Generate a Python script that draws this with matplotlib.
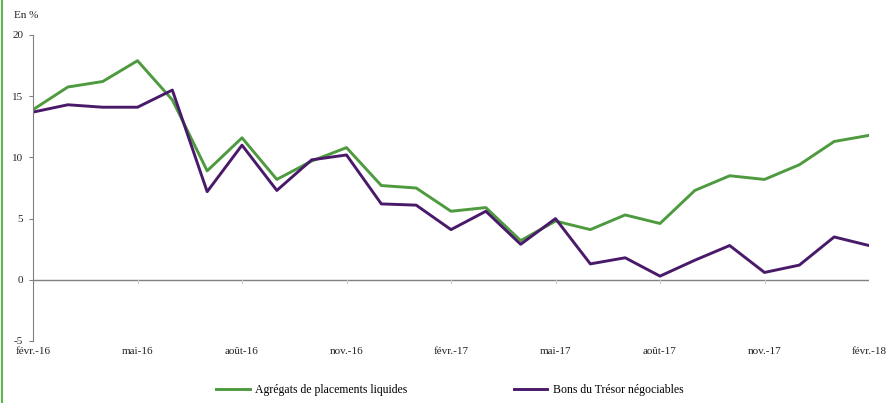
import matplotlib.pyplot as plt
import matplotlib.lines as mlines
import numpy as np

plt.rcParams['font.family'] = ['Liberation Serif', 'DejaVu Serif']
plt.rcParams['axes.unicode_minus'] = False

months = ['févr.-16', 'mars-16', 'avr.-16', 'mai-16', 'juin-16', 'juil.-16', 'août-16', 'sept.-16',
          'oct.-16', 'nov.-16', 'déc.-16', 'janv.-17', 'févr.-17', 'mars-17', 'avr.-17', 'mai-17',
          'juin-17', 'juil.-17', 'août-17', 'sept.-17', 'oct.-17', 'nov.-17', 'déc.-17', 'janv.-18',
          'févr.-18']
agregats = [13.9, 15.75, 16.2, 17.9, 14.7, 8.9, 11.6, 8.2, 9.7, 10.8, 7.7, 7.5, 5.6, 5.9, 3.2,
            4.8, 4.1, 5.3, 4.6, 7.3, 8.5, 8.2, 9.4, 11.3, 11.8]
bons = [13.7, 14.3, 14.1, 14.1, 15.5, 7.2, 11.0, 7.3, 9.8, 10.2, 6.2, 6.1, 4.1, 5.6, 2.9,
        5.0, 1.3, 1.8, 0.3, 1.6, 2.8, 0.6, 1.2, 3.5, 2.8]
yticks = [-5, 0, 5, 10, 15, 20]

green = '#4E9A3F'
purple = '#4A1A6A'
grey = '#808080'

fig = plt.figure(figsize=(8.88, 4.03), dpi=100)
ax = fig.add_axes([33 / 888, 1 - 341 / 403, (869 - 33) / 888, (341 - 35) / 403])

x = np.arange(len(months))
ax.plot(x, agregats, color=green, lw=2.1, label='Agrégats de placements liquides')
ax.plot(x, bons, color=purple, lw=2.1, label='Bons du Trésor négociables')

ax.set_xlim(0, len(months) - 1)
ax.set_ylim(-5, 20)
ax.set_yticks(yticks)
ax.tick_params(axis='y', length=3, width=0.8, color=grey, labelsize=8, pad=4, labelcolor='#222222')

# horizontal axis at zero
ax.axhline(0, color=grey, lw=1)
for xt in x[::3]:
    ax.plot([xt, xt], [0, -0.25], color='#cccccc', lw=0.8)
ax.set_xticks([])
for xt in x[::3]:
    ax.text(xt, -5.45, months[xt], ha='center', va='top', fontsize=8, color='#222222')

for s in ['top', 'right', 'bottom']:
    ax.spines[s].set_visible(False)
ax.spines['left'].set_color(grey)
ax.spines['left'].set_linewidth(0.8)

fig.text(14 / 888, 1 - 15 / 403, 'En %', fontsize=8, color='#222222', va='center')

# left border line
fig.add_artist(mlines.Line2D([2 / 888, 2 / 888], [0, 1], color='#5CB84A', lw=1.5))

ax.legend(loc='center', bbox_to_anchor=(450 / 888, 1 - 390 / 403), bbox_transform=fig.transFigure,
          ncol=2, frameon=False, fontsize=8.5, handlelength=2.8, columnspacing=9, handletextpad=0.5)

plt.savefig('out.png', dpi=100)
